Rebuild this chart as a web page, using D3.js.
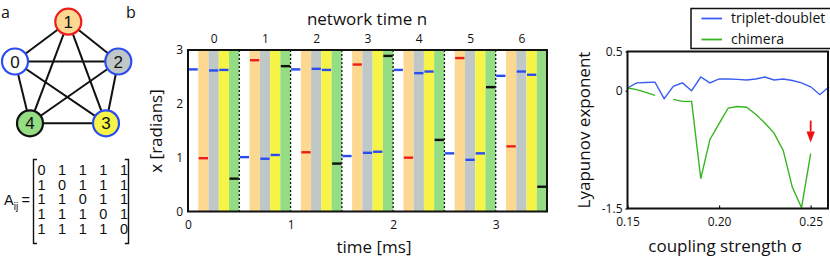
<!DOCTYPE html>
<html>
<head>
<meta charset="utf-8">
<script src="https://cdn.jsdelivr.net/npm/d3@7"></script>
<style>
  body { margin: 0; background: #fff; }
  svg { display: block; }
  text { font-family: "Open Sans", sans-serif; fill: #111; }
  text.arial { font-family: "Liberation Sans", Arial, sans-serif; }
</style>
</head>
<body>
<div id="svgContainer"></div>
<script>
// ---- data ----
const nodeIds = [0, 1, 2, 3, 4];
const adjacency = [
    [0, 1, 1, 1, 1],
    [1, 0, 1, 1, 1],
    [1, 1, 0, 1, 1],
    [1, 1, 1, 0, 1],
    [1, 1, 1, 1, 0]
];
const nodeFill = ["#ffffff", "#fdd890", "#bfc8c6", "#f6f547", "#94dd84"];
const nodeStroke = ["#2a4cf0", "#ee1c1c", "#2a4cf0", "#2a4cf0", "#111111"];

const networkTimes = [0, 1, 2, 3, 4, 5, 6];
const timeTicks = [0, 1, 2, 3];
const phaseTicks = [0, 1, 2, 3];
// phase x of each node at each network time n
const phaseNode0 = [2.64, 1.01, 2.64, 1.03, 2.63, 1.08, 2.52];
const phaseNode1 = [0.99, 2.81, 1.10, 2.73, 1.00, 2.85, 1.21];
const phaseNode2 = [2.62, 0.98, 2.65, 1.09, 2.57, 0.96, 2.60];
const phaseNode3 = [2.63, 1.05, 2.63, 1.11, 2.60, 1.08, 2.54];
const phaseNode4 = [0.61, 2.70, 0.89, 2.89, 1.33, 2.31, 0.46];
const phases = [phaseNode0, phaseNode1, phaseNode2, phaseNode3, phaseNode4];

const sigma = [0.150, 0.155, 0.160, 0.165, 0.170, 0.175, 0.180, 0.185, 0.190, 0.195, 0.200, 0.205,
               0.210, 0.215, 0.220, 0.225, 0.230, 0.235, 0.240, 0.245, 0.250, 0.255, 0.260];
const tripletDoublet = [0.035, 0.10, 0.105, 0.11, -0.10, 0.055, 0.10, 0.0, 0.175, 0.10, 0.15, 0.15,
                        0.145, 0.137, 0.15, 0.175, 0.137, 0.15, 0.13, 0.10, 0.05, -0.05, 0.05];
const chimera = [0.035, 0.015, -0.02, -0.06, null, -0.11, -0.135, -0.135, -1.12, -0.62, -0.42, -0.22,
                 -0.20, -0.21, -0.30, -0.41, -0.54, -0.76, -1.23, -1.49, -0.80, null, null];
const sigmaTicks = [0.15, 0.20, 0.25];
const lyapTicks = [-1.5, 0, 0.5];
const seriesNames = ["triplet-doublet", "chimera"];
const seriesColors = ["#3b5cf2", "#35b51e"];

const W = 830, H = 259;
const svg = d3.select("#svgContainer").append("svg")
    .attr("width", W).attr("height", H)
    .attr("viewBox", `0 0 ${W} ${H}`);

// ---- panel a: network ----
const nodePos = [[15, 61.5], [68.3, 21.7], [118.3, 61.5], [106, 123.3], [30, 123.3]];
const edges = [];
adjacency.forEach((row, i) => row.forEach((v, j) => { if (v && j > i) edges.push([i, j]); }));

const gA = svg.append("g");
gA.append("text").attr("x", 1).attr("y", 18).attr("font-size", 16).text("a");
gA.append("text").attr("x", 126).attr("y", 18).attr("font-size", 16).text("b");

gA.selectAll("line.edge").data(edges).enter().append("line")
    .attr("class", "edge")
    .attr("x1", d => nodePos[d[0]][0]).attr("y1", d => nodePos[d[0]][1])
    .attr("x2", d => nodePos[d[1]][0]).attr("y2", d => nodePos[d[1]][1])
    .attr("stroke", "#111").attr("stroke-width", 2);

const nodeG = gA.selectAll("g.node").data(nodeIds).enter().append("g")
    .attr("transform", d => `translate(${nodePos[d][0]},${nodePos[d][1]})`);
nodeG.append("circle").attr("r", 13)
    .attr("fill", d => nodeFill[d])
    .attr("stroke", d => nodeStroke[d]).attr("stroke-width", 2.2);
nodeG.append("text").attr("class", "arial")
    .attr("text-anchor", "middle").attr("dy", "0.36em")
    .attr("font-size", 17).text(d => d);

// adjacency matrix
const colX = d3.scaleLinear().domain([0, 4]).range([41.5, 124]);
const rowY = d3.scaleLinear().domain([0, 4]).range([169.5, 229]);
const gM = svg.append("g");
adjacency.forEach((row, i) => {
    gM.selectAll(null).data(row).enter().append("text")
        .attr("class", "arial")
        .attr("x", (d, j) => colX(j)).attr("y", rowY(i))
        .attr("dy", "0.36em").attr("text-anchor", "middle")
        .attr("font-size", 14.5).text(d => d);
});
gM.append("path")
    .attr("d", "M37,159.5 H33.5 V243.5 H37 M124.8,159.5 H128.5 V243.5 H124.8")
    .attr("fill", "none").attr("stroke", "#111").attr("stroke-width", 1.4);
const aLabel = gM.append("text").attr("class", "arial").attr("x", 4).attr("y", 205).attr("font-size", 14.5);
aLabel.append("tspan").text("A");
aLabel.append("tspan").attr("font-size", 10).attr("dy", 5).text("ij");
gM.append("text").attr("class", "arial").attr("x", 21.5).attr("y", 205).attr("font-size", 14.5).text("=");

// ---- panel b: phases over time ----
const periodMs = 0.5, slotMs = 0.1;
const x = d3.scaleLinear().domain([0, 3.5]).range([188, 547]);
const y = d3.scaleLinear().domain([0, 3]).range([211.5, 50]);

const gB = svg.append("g");
const slots = [];
networkTimes.forEach(n => nodeIds.forEach(i => slots.push({ n: n, i: i, v: phases[i][n] })));

gB.selectAll("rect.slot").data(slots.filter(d => d.i > 0)).enter().append("rect")
    .attr("x", d => x(d.n * periodMs + d.i * slotMs))
    .attr("width", d => x(d.n * periodMs + (d.i + 1) * slotMs) - x(d.n * periodMs + d.i * slotMs))
    .attr("y", y(3)).attr("height", y(0) - y(3))
    .attr("fill", d => nodeFill[d.i]);

gB.selectAll("line.div").data(networkTimes.slice(1)).enter().append("line")
    .attr("x1", d => x(d * periodMs)).attr("x2", d => x(d * periodMs))
    .attr("y1", y(3)).attr("y2", y(0))
    .attr("stroke", "#111").attr("stroke-width", 1.3).attr("stroke-dasharray", "2,2");

gB.selectAll("line.mark").data(slots).enter().append("line")
    .attr("x1", d => x(d.n * periodMs + d.i * slotMs) + 0.5)
    .attr("x2", d => x(d.n * periodMs + (d.i + 1) * slotMs) - 0.5)
    .attr("y1", d => y(d.v)).attr("y2", d => y(d.v))
    .attr("stroke", d => nodeStroke[d.i]).attr("stroke-width", 2.4);

gB.append("rect")
    .attr("x", x(0)).attr("y", y(3))
    .attr("width", x(3.5) - x(0)).attr("height", y(0) - y(3))
    .attr("fill", "none").attr("stroke", "#111").attr("stroke-width", 2);

const axB = gB.append("g").attr("transform", `translate(0,${y(0)})`)
    .call(d3.axisBottom(x).tickValues(timeTicks).tickFormat(d3.format("d")).tickSize(0).tickPadding(9));
const ayB = gB.append("g").attr("transform", `translate(${x(0)},0)`)
    .call(d3.axisLeft(y).tickValues(phaseTicks).tickFormat(d3.format("d")).tickSize(0).tickPadding(5));
const atB = gB.append("g").attr("transform", `translate(0,${y(3)})`)
    .call(d3.axisTop(x).tickValues(networkTimes.map(n => n * periodMs + periodMs / 2))
        .tickFormat((d, i) => networkTimes[i]).tickSize(0).tickPadding(7));
[axB, ayB, atB].forEach(a => {
    a.select(".domain").remove();
    a.selectAll("text").attr("font-size", 12).attr("font-family", "Open Sans, sans-serif").attr("fill", "#111");
});

gB.append("text").attr("x", 367).attr("y", 25).attr("text-anchor", "middle")
    .attr("font-size", 17).text("network time n");
gB.append("text").attr("x", 374).attr("y", 253).attr("text-anchor", "middle")
    .attr("font-size", 17).text("time [ms]");
gB.append("text").attr("transform", "translate(162,131) rotate(-90)")
    .attr("text-anchor", "middle").attr("font-size", 17).text("x [radians]");

// ---- panel c: Lyapunov exponents ----
const xs = d3.scaleLinear().domain([0.15, 0.26]).range([627.5, 829]);
const yl = d3.scaleLinear().domain([-1.5, 0.5]).range([208.5, 51.5]);
const gC = svg.append("g");

const lineGen = d3.line()
    .defined(d => d[1] !== null)
    .x(d => xs(d[0])).y(d => yl(d[1]));
[tripletDoublet, chimera].forEach((s, k) => {
    gC.append("path")
        .datum(sigma.map((sg, i) => [sg, s[i]]))
        .attr("d", lineGen)
        .attr("fill", "none").attr("stroke", seriesColors[k]).attr("stroke-width", 1.4);
});

// red arrow at the chimera end point
gC.append("line")
    .attr("x1", xs(0.25)).attr("x2", xs(0.25))
    .attr("y1", yl(-0.38)).attr("y2", yl(-0.52))
    .attr("stroke", "#ee1111").attr("stroke-width", 1.8);
gC.append("path")
    .attr("d", `M${xs(0.25) - 4.2},${yl(-0.52)} L${xs(0.25) + 4.2},${yl(-0.52)} L${xs(0.25)},${yl(-0.66)} Z`)
    .attr("fill", "#ee1111");

gC.append("rect")
    .attr("x", xs(0.15)).attr("y", yl(0.5))
    .attr("width", 200.5).attr("height", yl(-1.5) - yl(0.5))
    .attr("fill", "none").attr("stroke", "#111").attr("stroke-width", 2);

const axC = gC.append("g").attr("transform", `translate(0,${yl(-1.5)})`)
    .call(d3.axisBottom(xs).tickValues(sigmaTicks).tickFormat(d3.format(".2f"))
        .tickSizeInner(-3).tickSizeOuter(0).tickPadding(9));
const ayC = gC.append("g").attr("transform", `translate(${xs(0.15)},0)`)
    .call(d3.axisLeft(yl).tickValues(lyapTicks).tickFormat(d => d)
        .tickSizeInner(2).tickSizeOuter(0).tickPadding(3));
[axC, ayC].forEach(a => {
    a.select(".domain").remove();
    a.selectAll("line").attr("stroke", "#111").attr("stroke-width", 1.2);
    a.selectAll("text").attr("font-size", 12).attr("font-family", "Open Sans, sans-serif").attr("fill", "#111");
});

gC.append("text").attr("x", 725).attr("y", 252).attr("text-anchor", "middle")
    .attr("font-size", 17).text("coupling strength σ");
gC.append("text").attr("transform", "translate(590,130) rotate(-90)")
    .attr("text-anchor", "middle").attr("font-size", 17).text("Lyapunov exponent");

// legend
const leg = gC.append("g").attr("transform", "translate(691,8.5)");
leg.append("rect").attr("width", 140).attr("height", 40)
    .attr("fill", "#fff").attr("stroke", "#111").attr("stroke-width", 1.5);
seriesNames.forEach((name, k) => {
    const row = leg.append("g").attr("transform", `translate(0,${10 + k * 21})`);
    row.append("line").attr("x1", 10.5).attr("x2", 31)
        .attr("stroke", seriesColors[k]).attr("stroke-width", 1.8);
    row.append("text").attr("x", 40).attr("dy", "0.35em")
        .attr("font-size", 14).text(name);
});
</script>
</body>
</html>
